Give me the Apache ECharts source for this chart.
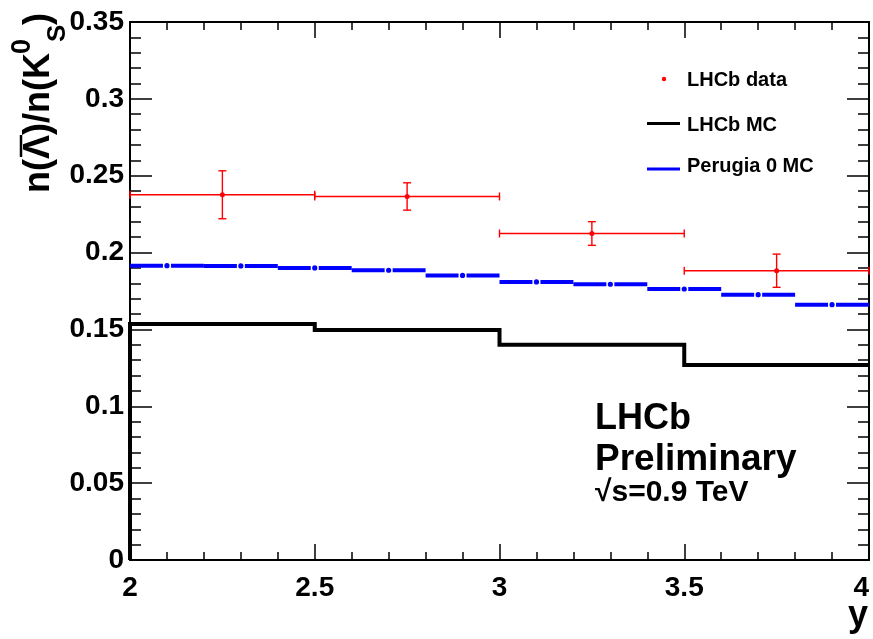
<!DOCTYPE html>
<html>
<head>
<meta charset="utf-8">
<script src="https://cdn.jsdelivr.net/npm/echarts@6/dist/echarts.min.js"></script>
<style>
  html, body { margin: 0; padding: 0; background: #fff; }
  #chart { width: 873px; height: 639px; }
</style>
</head>
<body>
<div id="chart"></div>
<script>
// ---- data ----
const mcEdges = [2.0, 2.5, 3.0, 3.5, 4.0];
const lhcbMC = [0.1535, 0.1496, 0.1400, 0.1268];

const perugiaEdges = [2.0, 2.2, 2.4, 2.6, 2.8, 3.0, 3.2, 3.4, 3.6, 3.8, 4.0];
const perugia0MC = [0.1915, 0.1913, 0.1900, 0.1885, 0.1851, 0.1809, 0.1794, 0.1763, 0.1726, 0.1661];

const dataX = [2.25, 2.75, 3.25, 3.75];
const dataXHalfWidth = [0.25, 0.25, 0.25, 0.25];
const dataY = [0.2376, 0.2365, 0.2124, 0.1882];
const dataYErr = [0.0156, 0.0089, 0.0077, 0.0108];

const xTicks = ['2', '2.5', '3', '3.5', '4'];
const yTicks = ['0', '0.05', '0.1', '0.15', '0.2', '0.25', '0.3', '0.35'];

// ---- build series data ----
const mcStep = [[mcEdges[0], 0]];
lhcbMC.forEach((v, i) => { mcStep.push([mcEdges[i], v]); mcStep.push([mcEdges[i + 1], v]); });

const perugiaBins = perugia0MC.map((v, i) => [perugiaEdges[i], perugiaEdges[i + 1], v]);
const dataPts = dataX.map((x, i) => [x, dataY[i], x - dataXHalfWidth[i], x + dataXHalfWidth[i], dataY[i] - dataYErr[i], dataY[i] + dataYErr[i]]);

const FONT = '"Liberation Sans", Arial, Helvetica, sans-serif';
const black = '#000';

function axisCommon(extra) {
  return Object.assign({
    type: 'value',
    axisLine: { show: true, onZero: false, lineStyle: { color: black, width: 2 } },
    splitLine: { show: false },
    minorSplitLine: { show: false },
  }, extra);
}

function txt(x, y, text, size, align) {
  return {
    type: 'text', x: x, y: y,
    style: {
      text: text, font: 'bold ' + size + 'px ' + FONT, fill: black,
      align: align || 'left', verticalAlign: 'middle',
      textAlign: align || 'left', textVerticalAlign: 'middle'
    }
  };
}

const chart = echarts.init(document.getElementById('chart'), null, { renderer: 'canvas' });

const option = {
  animation: false,
  backgroundColor: '#fff',
  grid: { left: 130, right: 4, top: 22, bottom: 79, containLabel: false, outerBoundsMode: 'none' },
  xAxis: [
    axisCommon({
      position: 'bottom', min: 2, max: 4, interval: 0.5,
      axisTick: { show: true, inside: true, length: 16, lineStyle: { color: black, width: 1.5 } },
      minorTick: { show: true, splitNumber: 5, length: 8, lineStyle: { color: black, width: 1.5 } },
      axisLabel: {
        show: true, margin: 14, color: black, fontSize: 28, fontWeight: 'bold', fontFamily: FONT,
        showMinLabel: true, showMaxLabel: true, hideOverlap: false, alignMaxLabel: 'right',
        formatter: (v) => xTicks[Math.round((v - 2) / 0.5)]
      }
    }),
    axisCommon({
      position: 'top', min: 2, max: 4, interval: 0.5,
      axisTick: { show: true, inside: true, length: 16, lineStyle: { color: black, width: 1.5 } },
      minorTick: { show: true, splitNumber: 5, length: 8, lineStyle: { color: black, width: 1.5 } },
      axisLabel: { show: false }
    })
  ],
  yAxis: [
    axisCommon({
      position: 'left', min: 0, max: 0.35, interval: 0.05,
      axisTick: { show: true, inside: true, length: 22, lineStyle: { color: black, width: 1.5 } },
      minorTick: { show: true, splitNumber: 5, length: 11, lineStyle: { color: black, width: 1.5 } },
      axisLabel: {
        show: true, margin: 6, color: black, fontSize: 28, fontWeight: 'bold', fontFamily: FONT,
        showMinLabel: true, showMaxLabel: true, hideOverlap: false,
        formatter: (v) => yTicks[Math.round(v / 0.05)]
      }
    }),
    axisCommon({
      position: 'right', min: 0, max: 0.35, interval: 0.05,
      axisTick: { show: true, inside: true, length: 22, lineStyle: { color: black, width: 1.5 } },
      minorTick: { show: true, splitNumber: 5, length: 11, lineStyle: { color: black, width: 1.5 } },
      axisLabel: { show: false }
    })
  ],
  series: [
    {
      name: 'LHCb MC', type: 'line', xAxisIndex: 0, yAxisIndex: 0,
      data: mcStep, symbol: 'none', clip: true,
      lineStyle: { color: black, width: 4, join: 'miter', cap: 'butt' },
      z: 3
    },
    {
      name: 'Perugia 0 MC', type: 'custom', xAxisIndex: 0, yAxisIndex: 0,
      data: perugiaBins, encode: { x: [0, 1], y: 2 },
      renderItem: function (params, api) {
        const p0 = api.coord([api.value(0), api.value(2)]);
        const p1 = api.coord([api.value(1), api.value(2)]);
        const cx = (p0[0] + p1[0]) / 2, cy = p0[1];
        const st = { stroke: '#0000ff', lineWidth: 4 };
        return {
          type: 'group', children: [
            { type: 'line', shape: { x1: p0[0], y1: cy, x2: cx - 4, y2: cy }, style: st },
            { type: 'line', shape: { x1: cx + 4, y1: cy, x2: p1[0], y2: cy }, style: st },
            { type: 'circle', shape: { cx: cx, cy: cy, r: 2.6 }, style: { fill: '#0000ff' } }
          ]
        };
      },
      z: 4
    },
    {
      name: 'LHCb data', type: 'custom', xAxisIndex: 0, yAxisIndex: 0,
      data: dataPts, encode: { x: [0, 2, 3], y: [1, 4, 5] },
      renderItem: function (params, api) {
        const c = api.coord([api.value(0), api.value(1)]);
        const l = api.coord([api.value(2), api.value(1)]);
        const r = api.coord([api.value(3), api.value(1)]);
        const lo = api.coord([api.value(0), api.value(4)]);
        const hi = api.coord([api.value(0), api.value(5)]);
        const st = { stroke: '#ff0000', lineWidth: 1.4 };
        return {
          type: 'group', children: [
            { type: 'line', shape: { x1: l[0], y1: c[1], x2: r[0], y2: c[1] }, style: st },
            { type: 'line', shape: { x1: l[0], y1: c[1] - 4, x2: l[0], y2: c[1] + 4 }, style: st },
            { type: 'line', shape: { x1: r[0], y1: c[1] - 4, x2: r[0], y2: c[1] + 4 }, style: st },
            { type: 'line', shape: { x1: c[0], y1: lo[1], x2: c[0], y2: hi[1] }, style: st },
            { type: 'line', shape: { x1: c[0] - 4, y1: lo[1], x2: c[0] + 4, y2: lo[1] }, style: st },
            { type: 'line', shape: { x1: c[0] - 4, y1: hi[1], x2: c[0] + 4, y2: hi[1] }, style: st },
            { type: 'circle', shape: { cx: c[0], cy: c[1], r: 2.5 }, style: { fill: '#ff0000' } }
          ]
        };
      },
      z: 5
    }
  ],
  graphic: [
    // y-axis title  n(Λ̄)/n(K0S), rotated
    {
      type: 'group', x: 52, y: 193, rotation: Math.PI / 2,
      children: [
        txt(0, -12.5, 'n(', 36),
        txt(34, -12.5, 'Λ', 36),
        { type: 'line', shape: { x1: 36, y1: -31, x2: 58, y2: -31 }, style: { stroke: black, lineWidth: 2.5 } },
        txt(58, -12.5, ')/n(K', 36),
        txt(139, -29.5, '0', 27),
        txt(151, 6, 'S', 26),
        txt(168, -12.5, ')', 36)
      ]
    },
    // x-axis title
    txt(868, 616, 'y', 36, 'right'),
    // legend
    { type: 'circle', shape: { cx: 664, cy: 79, r: 2.2 }, style: { fill: '#ff0000' } },
    txt(687, 80, 'LHCb data', 20),
    { type: 'line', shape: { x1: 647, y1: 123.5, x2: 680, y2: 123.5 }, style: { stroke: black, lineWidth: 3 } },
    txt(687, 125, 'LHCb MC', 20),
    { type: 'line', shape: { x1: 647, y1: 169, x2: 680, y2: 169 }, style: { stroke: '#0000ff', lineWidth: 3 } },
    txt(687, 166.5, 'Perugia 0 MC', 20),
    // LHCb label
    txt(595, 419.5, 'LHCb', 36),
    txt(595, 460, 'Preliminary', 37),
    txt(595, 492.5, '√s=0.9 TeV', 30)
  ]
};

chart.setOption(option);
</script>
</body>
</html>
